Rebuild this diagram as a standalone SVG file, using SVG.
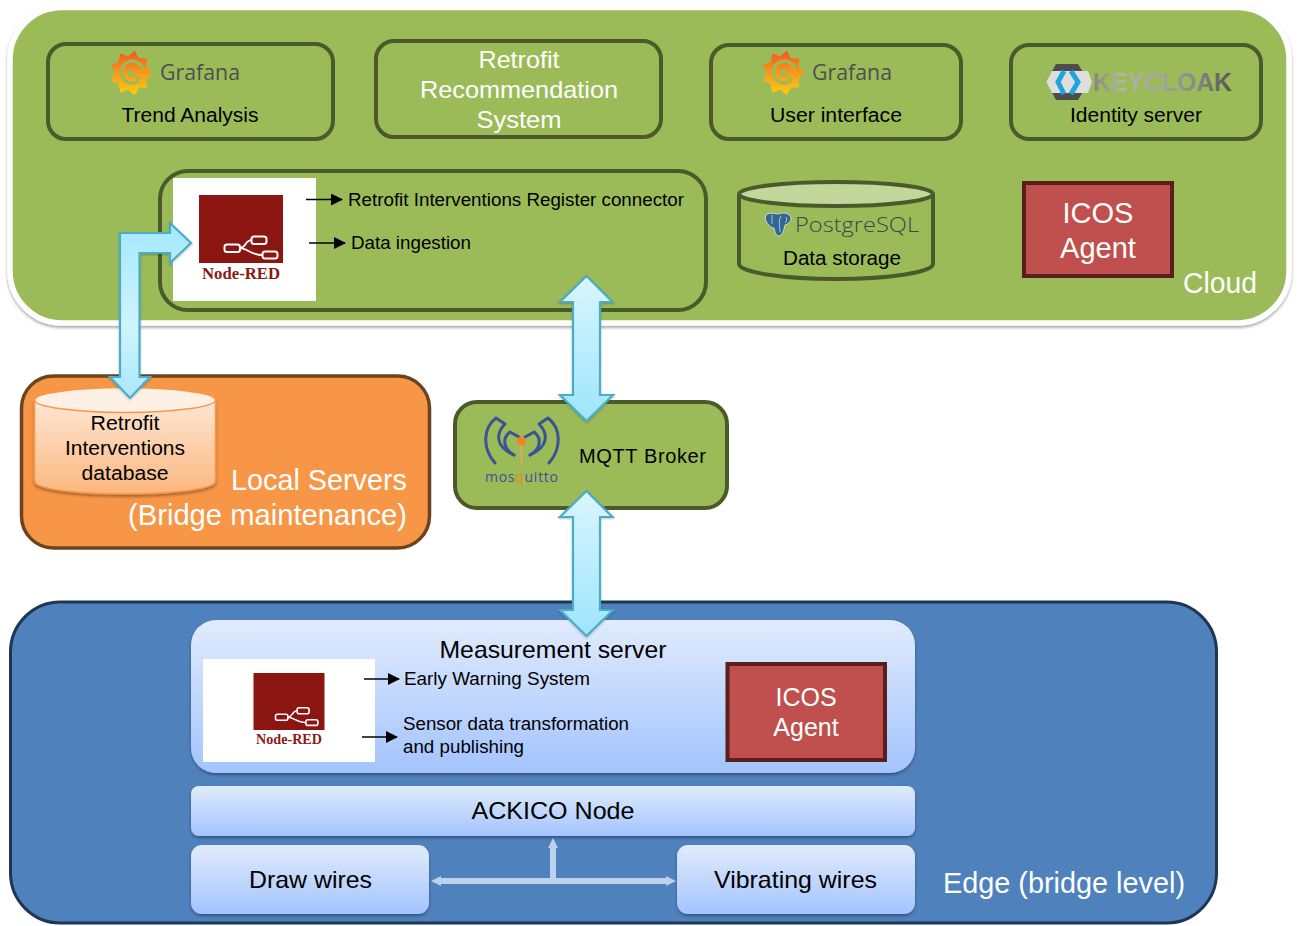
<svg xmlns="http://www.w3.org/2000/svg" width="1299" height="926" viewBox="0 0 1299 926">
<style>
text{font-family:"Liberation Sans",Arial,sans-serif;fill:#000}
.m{text-anchor:middle}
.w{fill:#fff}
.gb{fill:#9BBB59;stroke:#4A5A2B;stroke-width:4}
.red{fill:#C0504D;stroke:#5A1E1C;stroke-width:4}
.lb{fill:url(#nodeGrad);filter:url(#sh)}
.big{stroke:#4BACC6;stroke-width:2.200;stroke-linejoin:miter;filter:url(#sha)}
.thin{stroke:#000;stroke-width:1.300;fill:none;marker-end:url(#tri)}
.nr{font-family:"Liberation Serif",serif;font-weight:bold;fill:#8B1A14}
.logo{font-family:"Open Sans",sans-serif}
</style>
<defs>
<linearGradient id="nodeGrad" x1="0" y1="0" x2="0" y2="1"><stop offset="0" stop-color="#E1EBFD"/><stop offset="1" stop-color="#A3C4FE"/></linearGradient>
<linearGradient id="cyl" x1="0" y1="0" x2="0" y2="1"><stop offset="0" stop-color="#FEE6D4"/><stop offset="1" stop-color="#FBB77E"/></linearGradient>
<linearGradient id="a1" gradientUnits="userSpaceOnUse" x1="0" y1="223" x2="0" y2="398"><stop offset="0" stop-color="#A4E8FD"/><stop offset=".6" stop-color="#CFF4FE"/><stop offset="1" stop-color="#A9E7FB"/></linearGradient>
<linearGradient id="a2" x1="0" y1="0" x2="0" y2="1"><stop offset="0" stop-color="#D9F6FF"/><stop offset="1" stop-color="#9DE5FB"/></linearGradient>
<linearGradient id="gf" gradientUnits="userSpaceOnUse" x1="0" y1="-23" x2="0" y2="23"><stop offset="0" stop-color="#F1541F"/><stop offset=".5" stop-color="#F89A1C"/><stop offset="1" stop-color="#FCD010"/></linearGradient>
<linearGradient id="kc" x1="0" y1="0" x2="1" y2="0"><stop offset="0" stop-color="#84847A"/><stop offset=".2" stop-color="#B4B4A8"/><stop offset=".5" stop-color="#A2A2A2"/><stop offset=".75" stop-color="#888"/><stop offset="1" stop-color="#505050"/></linearGradient>
<filter id="sh" x="-5%" y="-10%" width="110%" height="125%"><feDropShadow dx="0" dy="2" stdDeviation="1.500" flood-color="#000" flood-opacity=".35"/></filter>
<filter id="sha" x="-15%" y="-5%" width="130%" height="110%"><feDropShadow dx="0" dy="1" stdDeviation="1" flood-color="#000" flood-opacity=".25"/></filter>
<marker id="tri" markerUnits="userSpaceOnUse" markerWidth="12" markerHeight="12" refX="11" refY="6" orient="auto"><path d="M0 0L12 6L0 12Z" fill="#000"/></marker>
<g id="grafana">
<polygon fill="url(#gf)" points="21.400,0 15.200,5.800 16.300,14.500 8,14.700 3.700,22.200 -2.900,16.700 -10.700,19.500 -12.400,10.900 -20,7.700 -16.200,0 -20,-7.700 -12.400,-10.900 -10.700,-19.500 -2.900,-16.700 3.700,-22.200 8,-14.700 16.300,-14.500 15.200,-5.800"/>
<path d="M12 -4A11 11 0 1 0 8 8" fill="none" stroke="#9BBB59" stroke-width="3.200"/>
<circle r="3.300" fill="#9BBB59"/>
<path d="M2 1L9 7" fill="none" stroke="#9BBB59" stroke-width="2.500"/>
</g>
<g id="noderedIcon" fill="none" stroke="#fff">
<rect x="2.500" y="1.500" width="15.500" height="7.500" rx="2.500" stroke-width="2"/>
<rect x="29.500" y="-6.500" width="15" height="7.500" rx="2.500" stroke-width="2"/>
<rect x="40.500" y="8.500" width="15" height="7" rx="2.500" stroke-width="2"/>
<path d="M18 5.200C24 5.200 23 -2.800 29.500 -2.800M18 5.200C25 5.200 29 12 40.500 12" stroke-width="1.800"/>
</g>
</defs>

<g id="cloud">
<rect x="10" y="7.500" width="1279" height="315.500" rx="52" fill="#9BBB59" stroke="#fff" stroke-width="5.500" filter="url(#sh)"/>
<text class="w" x="1183" y="293" font-size="29" textLength="74" lengthAdjust="spacingAndGlyphs">Cloud</text>
</g>

<g id="trend-analysis">
<rect class="gb" x="48" y="44" width="285" height="95" rx="18"/>
<use href="#grafana" x="131" y="73"/>
<text class="logo" x="160" y="80" font-size="21" textLength="80" lengthAdjust="spacingAndGlyphs" style="fill:#4C4E50">Grafana</text>
<text class="m" x="190" y="122" font-size="20" textLength="137" lengthAdjust="spacingAndGlyphs">Trend Analysis</text>
</g>

<g id="retrofit-recommendation">
<rect class="gb" x="376" y="41" width="285" height="96" rx="18"/>
<text class="m w" x="519" y="68" font-size="24" textLength="81" lengthAdjust="spacingAndGlyphs">Retrofit</text>
<text class="m w" x="519" y="98" font-size="24" textLength="198" lengthAdjust="spacingAndGlyphs">Recommendation</text>
<text class="m w" x="519" y="128" font-size="24" textLength="85" lengthAdjust="spacingAndGlyphs">System</text>
</g>

<g id="user-interface">
<rect class="gb" x="711" y="45" width="250" height="94" rx="18"/>
<use href="#grafana" x="783" y="73"/>
<text class="logo" x="812" y="80" font-size="21" textLength="80" lengthAdjust="spacingAndGlyphs" style="fill:#4C4E50">Grafana</text>
<text class="m" x="836" y="122" font-size="20" textLength="132" lengthAdjust="spacingAndGlyphs">User interface</text>
</g>

<g id="identity-server">
<rect class="gb" x="1011" y="45" width="250" height="94" rx="18"/>
<polygon points="1046,82 1056,64 1078,64 1089,82 1078,100 1056,100" fill="#4D4D4D"/>
<polygon points="1046,82 1052,71 1088,71 1092,82 1088,93 1052,93" fill="#DEDEDE"/>
<path d="M1064 71L1058 82L1064 94M1071 71L1078 82L1071 94" fill="none" stroke="#1EA6DC" stroke-width="5"/>
<text x="1093" y="91" font-size="25.500" font-weight="bold" textLength="139" lengthAdjust="spacingAndGlyphs" style="fill:url(#kc)">KEYCLOAK</text>
<text class="m" x="1136" y="122" font-size="20" textLength="132" lengthAdjust="spacingAndGlyphs">Identity server</text>
</g>

<g id="node-red-cloud">
<rect class="gb" x="160" y="171" width="546" height="139" rx="28"/>
<rect x="173" y="178" width="143" height="123" fill="#fff"/>
<rect x="199" y="195" width="84" height="68" fill="#8B1510"/>
<use href="#noderedIcon" x="222" y="243"/>
<text class="m nr" x="241" y="279" font-size="16.500" textLength="78" lengthAdjust="spacingAndGlyphs">Node-RED</text>
<text x="348" y="206" font-size="18.700" textLength="336" lengthAdjust="spacingAndGlyphs">Retrofit Interventions Register connector</text>
<text x="351" y="249" font-size="18.700" textLength="120" lengthAdjust="spacingAndGlyphs">Data ingestion</text>
</g>

<g id="data-storage">
<path d="M739 194V264C739 272 781 279 836 279S933 272 933 264V194" fill="#9BBB59" stroke="#4A5A2B" stroke-width="4"/>
<ellipse cx="836" cy="194" rx="97" ry="12" fill="#C3D69B" stroke="#4A5A2B" stroke-width="4"/>
<path d="M766 215C770 212 776 214 779 214C783 212 790 213 791 218C791 222 788 224 785 225C784 230 782 236 779 236C776 236 775 232 774 228C770 228 763 220 766 215Z" fill="#336791" stroke="#E3EAF0" stroke-width=".8"/>
<path d="M772 215V224M781 216C778 220 780 226 780 232M786 217C787 219 787 221 785 223" fill="none" stroke="#E3EAF0" stroke-width=".7"/>
<text class="logo" x="795" y="232" font-size="20" font-weight="300" textLength="124" lengthAdjust="spacingAndGlyphs" style="fill:#3A454C">PostgreSQL</text>
<text class="m" x="842" y="265" font-size="20" textLength="118" lengthAdjust="spacingAndGlyphs">Data storage</text>
</g>

<g id="icos-agent-cloud">
<rect class="red" x="1024" y="183" width="148" height="93"/>
<text class="m w" x="1098" y="223" font-size="29">ICOS</text>
<text class="m w" x="1098" y="258" font-size="29">Agent</text>
</g>

<g id="local-servers">
<rect x="21.500" y="376" width="408" height="172" rx="32" fill="#F79646" stroke="#6B4320" stroke-width="3.500"/>
<text class="w" x="231" y="490" font-size="29" textLength="176" lengthAdjust="spacingAndGlyphs">Local Servers</text>
<text class="w" x="128" y="525" font-size="29" textLength="279" lengthAdjust="spacingAndGlyphs">(Bridge maintenance)</text>
</g>

<g id="retrofit-db">
<path d="M34.500 400V481C34.500 489 75 494 125 494S215.500 489 215.500 481V400Z" fill="url(#cyl)" stroke="#F79646" stroke-width="1.500" filter="url(#sh)"/>
<ellipse cx="125" cy="400" rx="90.500" ry="12.500" fill="#FFF0E5" stroke="#F79646" stroke-width="1.500"/>
<text class="m" x="125" y="430" font-size="20" textLength="69" lengthAdjust="spacingAndGlyphs">Retrofit</text>
<text class="m" x="125" y="455" font-size="20" textLength="120" lengthAdjust="spacingAndGlyphs">Interventions</text>
<text class="m" x="125" y="480" font-size="20" textLength="87" lengthAdjust="spacingAndGlyphs">database</text>
</g>

<g id="mqtt-broker">
<rect class="gb" x="455" y="402" width="272" height="106" rx="22" stroke-width="3.500"/>
<g fill="none" stroke="#3A5296" stroke-width="3" stroke-linejoin="round" stroke-linecap="round">
<path d="M495 463C482 448 483 428 496 418L505 424C495 434 496 447 514 455"/>
<path d="M514 455C503 449 502 438 510 432L519 437"/>
<path d="M549 463C562 448 561 428 548 418L539 424C549 434 548 447 530 455"/>
<path d="M530 455C541 449 542 438 534 432L525 437"/>
</g>
<path d="M520.500 441H522.500L522 466H521Z" fill="#F7A060"/>
<circle cx="521.500" cy="441" r="4.500" fill="#F58220"/>
<text class="logo" x="485" y="482" font-size="14" textLength="73" style="fill:#3A5296">mos<tspan style="fill:#F58220">q</tspan>uitto</text>
<text x="579" y="463" font-size="20" textLength="127" lengthAdjust="spacing">MQTT Broker</text>
</g>

<g id="edge">
<rect x="10.500" y="602" width="1206" height="321" rx="50" fill="#4F81BD" stroke="#1E3556" stroke-width="3"/>
<text class="w" x="943" y="893" font-size="29" textLength="242" lengthAdjust="spacingAndGlyphs">Edge (bridge level)</text>
</g>

<g id="measurement-server">
<rect class="lb" x="191" y="620" width="724" height="153" rx="25"/>
<text class="m" x="553" y="658" font-size="24" textLength="227" lengthAdjust="spacingAndGlyphs">Measurement server</text>
<rect x="203" y="659" width="172" height="103" fill="#fff"/>
<rect x="253.500" y="673" width="71" height="57" fill="#8B1510"/>
<use href="#noderedIcon" transform="translate(273.500,713) scale(.8)"/>
<text class="m nr" x="289" y="744" font-size="14" textLength="66" lengthAdjust="spacingAndGlyphs">Node-RED</text>
<text x="404" y="685" font-size="18.700" textLength="186" lengthAdjust="spacingAndGlyphs">Early Warning System</text>
<text x="403" y="730" font-size="18.700" textLength="226" lengthAdjust="spacingAndGlyphs">Sensor data transformation</text>
<text x="403" y="753" font-size="18.700" textLength="121" lengthAdjust="spacingAndGlyphs">and publishing</text>
</g>

<g id="icos-agent-edge">
<rect class="red" x="727.500" y="664" width="157.500" height="96"/>
<text class="m w" x="806" y="706" font-size="25">ICOS</text>
<text class="m w" x="806" y="736" font-size="25">Agent</text>
</g>

<g id="ackico-node">
<rect class="lb" x="191" y="786" width="724" height="50" rx="8"/>
<text class="m" x="553" y="819" font-size="24" textLength="163" lengthAdjust="spacingAndGlyphs">ACKICO Node</text>
</g>

<g id="draw-wires">
<rect class="lb" x="191" y="845" width="238" height="69" rx="11"/>
<text class="m" x="310.500" y="888" font-size="24" textLength="123" lengthAdjust="spacingAndGlyphs">Draw wires</text>
</g>

<g id="vibrating-wires">
<rect class="lb" x="677" y="845" width="238" height="69" rx="11"/>
<text class="m" x="795.500" y="888" font-size="24" textLength="163" lengthAdjust="spacingAndGlyphs">Vibrating wires</text>
</g>

<g id="connectors">
<path class="big" fill="url(#a1)" d="M120 233H170V223L191 243L170 263V253H139.500V377H150L130 398L110 377H120Z"/>
<path class="big" fill="url(#a2)" d="M586.500 276L612.500 302H600V395H613L586.500 421L560 395H573V302H560Z"/>
<path class="big" fill="url(#a2)" d="M586.500 491L612.500 517H600V610H613L586.500 636L560 610H573V517H560Z"/>
<path d="M553 838L558 848H556V878H666V876L676 881L666 886V884H441V886L431 881L441 876V878H550V848H548Z" fill="#BDD0EC"/>
<path class="thin" d="M306 199.500H342"/>
<path class="thin" d="M309 243H345"/>
<path class="thin" d="M364 679H399"/>
<path class="thin" d="M362 737H397"/>
</g>
</svg>
